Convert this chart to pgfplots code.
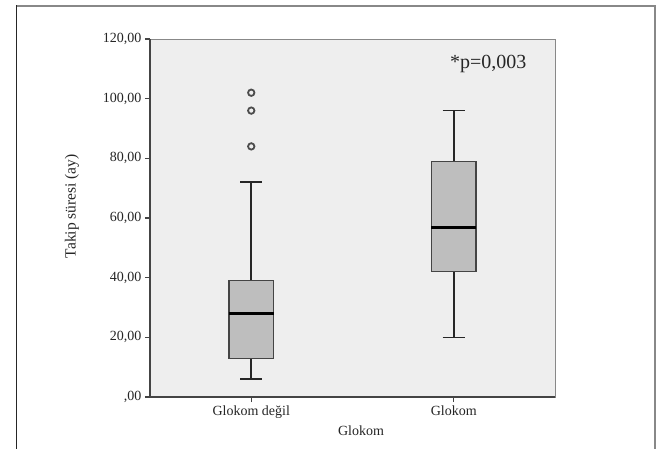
\documentclass[border=0pt]{standalone}
\usepackage{pgfplots}
\pgfplotsset{compat=1.18}
\usepackage{fontspec}
\setmainfont{Liberation Serif}
\definecolor{plotbg}{HTML}{EEEEEE}
\definecolor{boxfill}{HTML}{BEBEBE}
\definecolor{axdark}{HTML}{444444}
\definecolor{axlight}{HTML}{888888}
\begin{document}
\begin{tikzpicture}
\useasboundingbox (0pt,0pt) rectangle (656pt,448pt);
\fill[white] (0pt,0pt) rectangle (656pt,448pt);
\draw[axlight, line width=1.6pt] (16pt,442pt) -- (655pt,442pt) -- (655pt,-5pt);
\draw[black!85, line width=1.1pt] (16.5pt,442.8pt) -- (16.5pt,-5pt);
\begin{axis}[
  at={(150pt,51pt)}, anchor=south west,
  scale only axis, width=405pt, height=358pt,
  xmin=0.5, xmax=2.5, ymin=0, ymax=120,
  axis background/.style={fill=plotbg},
  axis line style={draw=axlight, line width=0.9pt},
  tick pos=left, tick align=outside,
  major tick length=5pt,
  tick style={axdark, line width=1.2pt},
  xtick={1,2}, xticklabels={Glokom değil, Glokom},
  ytick={0,20,40,60,80,100,120},
  yticklabels={{,00},{20,00},{40,00},{60,00},{80,00},{100,00},{120,00}},
  ticklabel style={font=\fontsize{14}{16}\selectfont, text=black!85},
  xlabel={Glokom}, ylabel={Takip süresi (ay)},
  xlabel style={font=\fontsize{14}{16}\selectfont, text=black!85, at={(axis description cs:0.521,-0.095)}, anchor=center},
  ylabel style={font=\fontsize{15.5}{18}\selectfont, text=black!85, at={(axis description cs:-0.193,0.533)}, anchor=center},
  clip=false,
]
% whiskers
\addplot[black!85, line width=1.6pt] coordinates {(1,6) (1,72)};
\addplot[black!85, line width=1.6pt] coordinates {(0.945,6) (1.055,6)};
\addplot[black!85, line width=1.6pt] coordinates {(0.945,72) (1.055,72)};
\addplot[black!85, line width=1.6pt] coordinates {(2,20) (2,96)};
\addplot[black!85, line width=1.6pt] coordinates {(1.945,20) (2.055,20)};
\addplot[black!85, line width=1.6pt] coordinates {(1.945,96) (2.055,96)};
% boxes
\addplot[draw=axdark, fill=boxfill, line width=1.2pt] coordinates {(0.89,13) (1.11,13) (1.11,39) (0.89,39)} -- cycle;
\addplot[draw=axdark, fill=boxfill, line width=1.2pt] coordinates {(1.89,42) (2.11,42) (2.11,79) (1.89,79)} -- cycle;
% medians
\addplot[black, line width=3pt] coordinates {(0.89,28) (1.11,28)};
\addplot[black, line width=3pt] coordinates {(1.89,56.8) (2.11,56.8)};
% outliers
\addplot[only marks, mark=o, mark size=3.2pt, mark options={draw=black!70, line width=1.8pt}] coordinates {(1,102) (1,96) (1,84)};
\draw[axdark, line width=1.6pt] (rel axis cs:0,1) -- (rel axis cs:0,0) -- (rel axis cs:1,0);
\node[anchor=base, font=\fontsize{20}{24}\selectfont, text=black!85] at (axis cs:2.17,110) {*p=0,003};
\end{axis}
\end{tikzpicture}
\end{document}
